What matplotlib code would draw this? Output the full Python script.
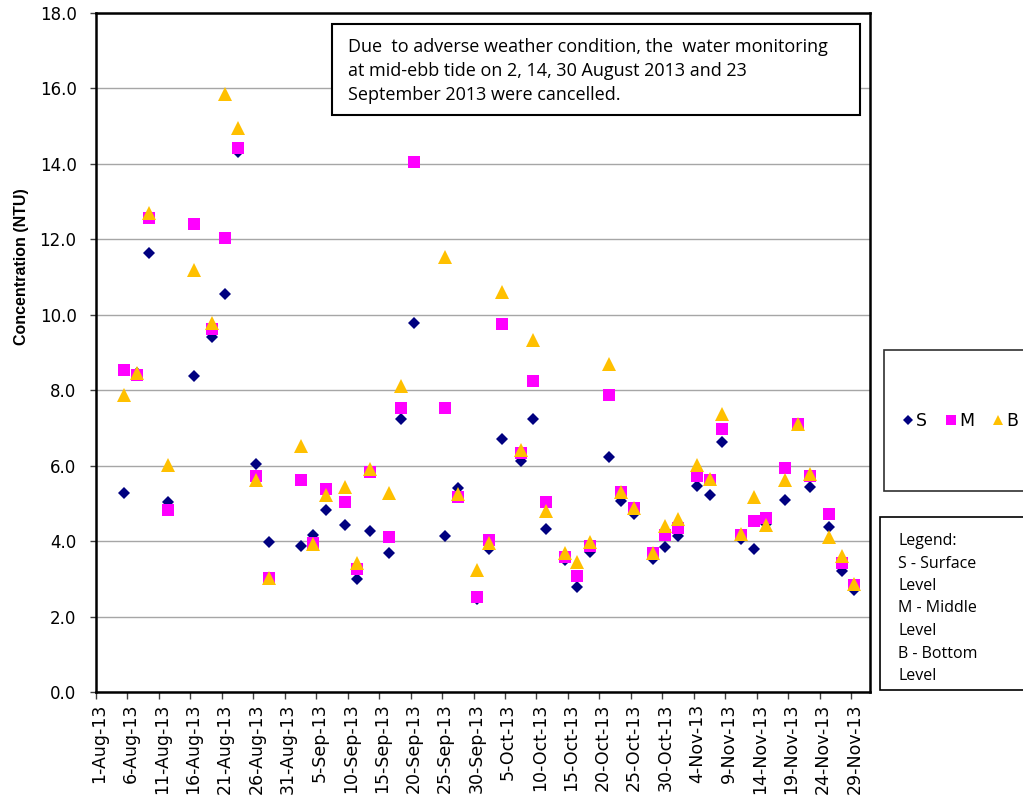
import matplotlib
matplotlib.use("Agg")
import matplotlib.pyplot as plt
import matplotlib.patches as mpatches
import numpy as np
import pandas as pd

# ---------------- data ----------------
dates = ["2013-08-05", "2013-08-07", "2013-08-09", "2013-08-12", "2013-08-16", "2013-08-19",
         "2013-08-21", "2013-08-23", "2013-08-26", "2013-08-28", "2013-09-02", "2013-09-04",
         "2013-09-06", "2013-09-09", "2013-09-11", "2013-09-13", "2013-09-16", "2013-09-18",
         "2013-09-20", "2013-09-25", "2013-09-27", "2013-09-30", "2013-10-02", "2013-10-04",
         "2013-10-07", "2013-10-09", "2013-10-11", "2013-10-14", "2013-10-16", "2013-10-18",
         "2013-10-21", "2013-10-23", "2013-10-25", "2013-10-28", "2013-10-30", "2013-11-01",
         "2013-11-04", "2013-11-06", "2013-11-08", "2013-11-11", "2013-11-13", "2013-11-15",
         "2013-11-18", "2013-11-20", "2013-11-22", "2013-11-25", "2013-11-27", "2013-11-29"]

surface = [5.29, 8.45, 11.65, 5.05, 8.39, 9.42, 10.54, 14.30, 6.04, 3.99, 3.88, 4.18,
           4.83, 4.43, 3.00, 4.28, 3.68, 7.23, 9.79, 4.13, 5.42, 2.47, 3.79, 6.70,
           6.14, 7.23, 4.33, 3.50, 2.80, 3.72, 6.23, 5.08, 4.72, 3.52, 3.84, 4.14,
           5.47, 5.23, 6.64, 4.06, 3.79, 4.45, 5.09, 7.10, 5.43, 4.39, 3.21, 2.71]

middle = [8.54, 8.40, 12.56, 4.83, 12.40, 9.62, 12.04, 14.41, 5.74, 3.04, 5.63, 3.95,
          5.39, 5.03, 3.26, 5.83, 4.12, 7.53, 14.04, 7.53, 5.18, 2.53, 4.03, 9.75,
          6.33, 8.25, 5.03, 3.58, 3.08, 3.88, 7.88, 5.30, 4.87, 3.68, 4.16, 4.35,
          5.73, 5.62, 6.98, 4.18, 4.53, 4.63, 5.93, 7.10, 5.74, 4.73, 3.42, 2.85]

bottom = [7.88, 8.45, 12.69, 6.03, 11.19, 9.79, 15.84, 14.94, 5.62, 3.04, 6.52, 3.94,
          5.23, 5.43, 3.43, 5.91, 5.27, 8.12, np.nan, 11.54, 5.25, 3.24, 3.96, 10.60,
          6.42, 9.33, 4.81, 3.70, 3.46, 3.97, 8.69, 5.30, 4.87, 3.68, 4.41, 4.59,
          6.03, 5.66, 7.37, 4.20, 5.17, 4.42, 5.62, 7.11, 5.77, 4.12, 3.61, 2.86]

tick_labels = ["1-Aug-13", "6-Aug-13", "11-Aug-13", "16-Aug-13", "21-Aug-13", "26-Aug-13",
               "31-Aug-13", "5-Sep-13", "10-Sep-13", "15-Sep-13", "20-Sep-13", "25-Sep-13",
               "30-Sep-13", "5-Oct-13", "10-Oct-13", "15-Oct-13", "20-Oct-13", "25-Oct-13",
               "30-Oct-13", "4-Nov-13", "9-Nov-13", "14-Nov-13", "19-Nov-13", "24-Nov-13",
               "29-Nov-13"]

series_names = ["S", "M", "B"]
note_text = ["Due  to adverse weather condition, the  water monitoring",
             "at mid-ebb tide on 2, 14, 30 August 2013 and 23",
             "September 2013 were cancelled."]
legend_note = ["Legend:", "S - Surface", "Level", "M - Middle", "Level", "B - Bottom", "Level"]

# ---------------- figure ----------------
W, H = 1023, 806
fig = plt.figure(figsize=(W / 100, H / 100), dpi=100)
fig.patch.set_facecolor("white")


def fx(x):
    return x / W


def fy(y):
    return 1 - y / H


ax = fig.add_axes([fx(96), fy(692.3), fx(870) - fx(96), fy(12.8) - fy(692.3)])

half_day = pd.Timedelta(hours=12)
xd = pd.to_datetime(dates) + half_day  # Excel "between tick marks" day slots

ax.plot(xd, surface, linestyle="none", marker="D", markersize=6.6, color="#000080",
        markeredgewidth=0, label=series_names[0], zorder=3)
ax.plot(xd, middle, linestyle="none", marker="s", markersize=9.0, color="#FF00FF",
        markeredgewidth=0, label=series_names[1], zorder=4)
ax.plot(xd, bottom, linestyle="none", marker="^", markersize=9.8, color="#FFC000",
        markeredgewidth=0, label=series_names[2], zorder=5)

# x axis
tick_dates = pd.to_datetime(tick_labels, format="%d-%b-%y")
ax.set_xlim(pd.Timestamp("2013-08-01"), pd.Timestamp("2013-12-02"))
ax.set_xticks(tick_dates)
ax.set_xticklabels([""] * len(tick_dates))
ax.set_xticks(tick_dates + half_day, minor=True)
ax.set_xticklabels(tick_labels, minor=True, rotation=90, fontsize=12.5,
                   family="DejaVu Sans")
ax.tick_params(axis="x", which="major", direction="out", length=5, width=1, color="#404040")
ax.tick_params(axis="x", which="minor", length=0, pad=8)

# y axis
ax.set_ylim(0, 18)
yt = np.arange(0, 19, 2)
ax.set_yticks(yt)
ax.set_yticklabels([f"{v:.1f}" for v in yt], fontsize=12, family="DejaVu Sans")
ax.tick_params(axis="y", direction="out", length=4, width=1, pad=10, color="#404040")
ax.yaxis.grid(True, color="#A6A6A6", linewidth=1.0)
ax.set_axisbelow(True)
ax.set_ylabel("Concentration (NTU)", fontsize=11.5, fontweight="bold",
              family=["Liberation Sans", "DejaVu Sans"])
ax.yaxis.set_label_coords(-0.086, 0.626)

for s in ax.spines.values():
    s.set_linewidth(1.8)
    s.set_color("black")

# note box
fig.add_artist(mpatches.Rectangle((fx(332), fy(115)), fx(860) - fx(332), fy(24) - fy(115),
                                  transform=fig.transFigure, facecolor="white",
                                  edgecolor="black", linewidth=1.5, zorder=10))
for i, line in enumerate(note_text):
    fig.text(fx(348), fy(47 + 24 * i), line, fontsize=13, family="Open Sans",
             va="center", ha="left", zorder=11)

# series legend box
fig.add_artist(mpatches.Rectangle((fx(884), fy(491)), fx(1040) - fx(884), fy(350) - fy(491),
                                  transform=fig.transFigure, facecolor="white",
                                  edgecolor="#303030", linewidth=1.2, zorder=10))
leg = fig.legend(loc="center", bbox_to_anchor=(fx(960), fy(421)), ncol=3, frameon=False,
                 handlelength=0.7, handletextpad=0.15, columnspacing=1.0,
                 markerscale=0.75, prop={"family": "DejaVu Sans", "size": 12.5},
                 borderpad=0, borderaxespad=0)
leg.set_zorder(12)

# legend note box
fig.add_artist(mpatches.Rectangle((fx(880), fy(690)), fx(1040) - fx(880), fy(517) - fy(690),
                                  transform=fig.transFigure, facecolor="white",
                                  edgecolor="black", linewidth=1.2, zorder=10))
for i, line in enumerate(legend_note):
    fig.text(fx(898), fy(541 + 22.5 * i), line, fontsize=11.5, family="Open Sans",
             va="center", ha="left", zorder=11)

fig.savefig("out.png", dpi=100, facecolor="white")
